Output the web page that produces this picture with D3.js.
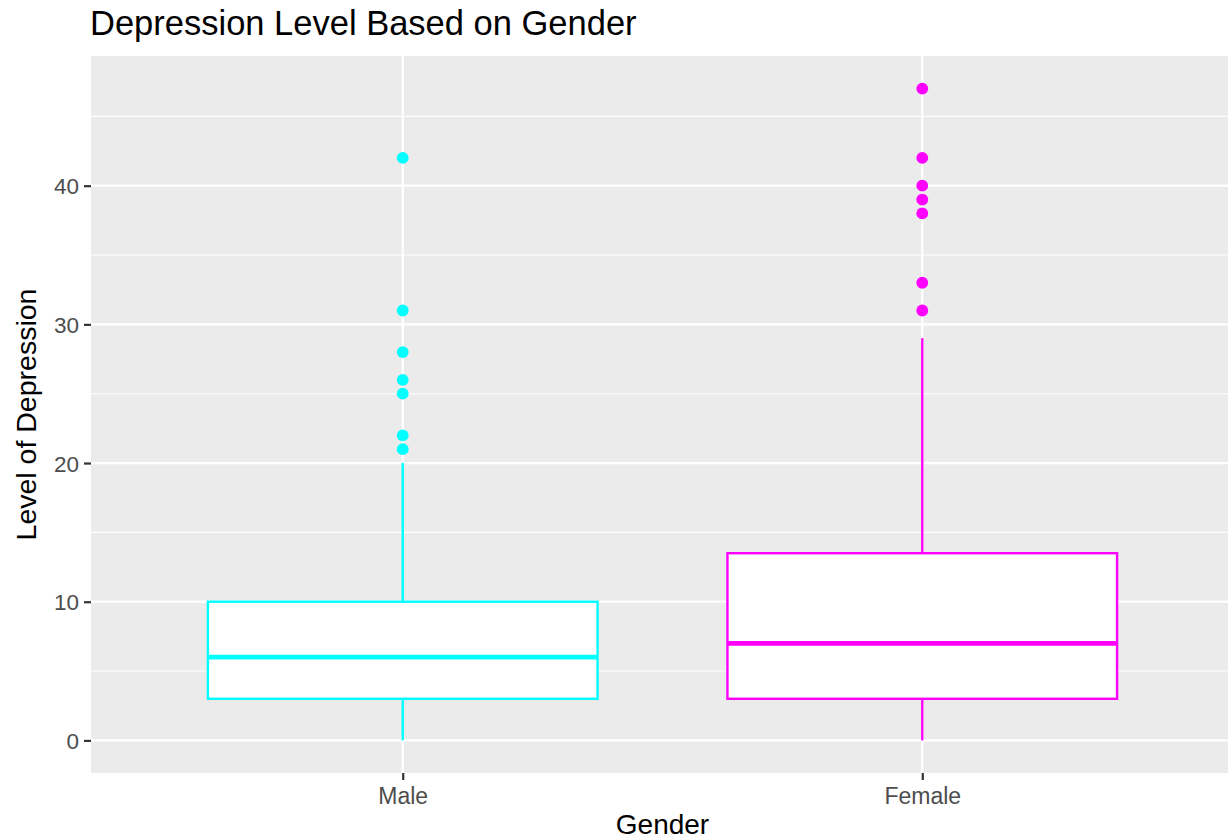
<!DOCTYPE html>
<html>
<head>
<meta charset="utf-8">
<script src="https://cdn.jsdelivr.net/npm/d3@7"></script>
<style>
  html, body { margin: 0; padding: 0; background: #ffffff; }
  svg { display: block; font-family: "Liberation Sans", Arial, Helvetica, sans-serif; }
</style>
</head>
<body>
<svg id="chart" width="1228" height="840"></svg>
<script>
// ---- data ----
const categories = ["Male", "Female"];
const colors = ["#00FFFF", "#FF00FF"];
const lowerWhisker = [0, 0];
const q1 = [3, 3];
const median = [6, 7];
const q3 = [10, 13.5];
const upperWhisker = [20, 29];
const outliers = [
  [21, 22, 25, 26, 28, 31, 42],
  [31, 33, 38, 39, 40, 42, 47]
];
const yTicks = [0, 10, 20, 30, 40];
const yMinorTicks = [5, 15, 25, 35, 45];
const titleText = "Depression Level Based on Gender";
const xTitle = "Gender";
const yTitle = "Level of Depression";

// ---- layout ----
const W = 1228, H = 840;
const panel = { left: 91, right: 1234, top: 56, bottom: 773 };

const svg = d3.select("#chart");

const x = d3.scalePoint().domain(categories).range([panel.left, panel.right]).padding(0.6);
const allVals = lowerWhisker.concat(upperWhisker, outliers.flat());
const yMin = d3.min(allVals), yMax = d3.max(allVals);
const pad = (yMax - yMin) * 0.05;
const y = d3.scaleLinear().domain([yMin - pad, yMax + pad]).range([panel.bottom, panel.top]);

svg.append("defs").append("clipPath").attr("id", "pclip")
  .append("rect").attr("x", panel.left).attr("y", panel.top)
  .attr("width", panel.right - panel.left).attr("height", panel.bottom - panel.top);

// panel background
svg.append("rect")
  .attr("x", panel.left).attr("y", panel.top)
  .attr("width", panel.right - panel.left).attr("height", panel.bottom - panel.top)
  .attr("fill", "#EBEBEB");

const grid = svg.append("g").attr("clip-path", "url(#pclip)");
grid.selectAll("line.minor").data(yMinorTicks).join("line")
  .attr("x1", panel.left).attr("x2", panel.right)
  .attr("y1", d => y(d)).attr("y2", d => y(d))
  .attr("stroke", "#ffffff").attr("stroke-width", 1.1);
grid.selectAll("line.majorY").data(yTicks).join("line")
  .attr("x1", panel.left).attr("x2", panel.right)
  .attr("y1", d => y(d)).attr("y2", d => y(d))
  .attr("stroke", "#ffffff").attr("stroke-width", 2.2);
grid.selectAll("line.majorX").data(categories).join("line")
  .attr("y1", panel.top).attr("y2", panel.bottom)
  .attr("x1", d => x(d)).attr("x2", d => x(d))
  .attr("stroke", "#ffffff").attr("stroke-width", 2.2);

// boxes
const bw = x.step() * 0.75;
const boxes = svg.append("g").attr("clip-path", "url(#pclip)");
categories.forEach((c, i) => {
  const cx = x(c);
  const g = boxes.append("g");
  // whiskers
  g.append("line").attr("x1", cx).attr("x2", cx)
    .attr("y1", y(q3[i])).attr("y2", y(upperWhisker[i]))
    .attr("stroke", colors[i]).attr("stroke-width", 2.4);
  g.append("line").attr("x1", cx).attr("x2", cx)
    .attr("y1", y(q1[i])).attr("y2", y(lowerWhisker[i]))
    .attr("stroke", colors[i]).attr("stroke-width", 2.4);
  // box
  g.append("rect")
    .attr("x", cx - bw / 2).attr("y", y(q3[i]))
    .attr("width", bw).attr("height", y(q1[i]) - y(q3[i]))
    .attr("fill", "#ffffff").attr("stroke", colors[i]).attr("stroke-width", 2.4);
  // median
  g.append("line").attr("x1", cx - bw / 2).attr("x2", cx + bw / 2)
    .attr("y1", y(median[i])).attr("y2", y(median[i]))
    .attr("stroke", colors[i]).attr("stroke-width", 4.8);
  // outliers
  g.selectAll("circle").data(outliers[i]).join("circle")
    .attr("cx", cx).attr("cy", d => y(d)).attr("r", 5.9)
    .attr("fill", colors[i]);
});

// y axis
const yAxis = d3.axisLeft(y).tickValues(yTicks).tickSize(7).tickPadding(5).tickFormat(d3.format("d"));
const gy = svg.append("g").attr("transform", `translate(${panel.left},0)`).call(yAxis);
gy.select(".domain").remove();
gy.selectAll(".tick line").attr("stroke", "#333333").attr("stroke-width", 2.2);
gy.selectAll(".tick text").attr("fill", "#4D4D4D").attr("font-size", 22.5)
  .attr("font-family", "Liberation Sans, Arial, sans-serif").attr("dy", "0.36em");

// x axis
const xAxis = d3.axisBottom(x).tickSize(7).tickPadding(5);
const gx = svg.append("g").attr("transform", `translate(0,${panel.bottom})`).call(xAxis);
gx.select(".domain").remove();
gx.selectAll(".tick line").attr("stroke", "#333333").attr("stroke-width", 2.2);
gx.selectAll(".tick text").attr("fill", "#4D4D4D").attr("font-size", 23)
  .attr("font-family", "Liberation Sans, Arial, sans-serif").attr("dy", null).attr("y", 31);

// titles
svg.append("text").attr("x", 90).attr("y", 35)
  .attr("font-size", 34.5).attr("fill", "#000000").text(titleText);
svg.append("text").attr("x", (panel.left + panel.right) / 2).attr("y", 834)
  .attr("text-anchor", "middle").attr("font-size", 28).attr("fill", "#000000").text(xTitle);
svg.append("text")
  .attr("transform", `translate(36,${(panel.top + panel.bottom) / 2}) rotate(-90)`)
  .attr("text-anchor", "middle").attr("font-size", 28.5).attr("fill", "#000000").text(yTitle);
</script>
</body>
</html>
